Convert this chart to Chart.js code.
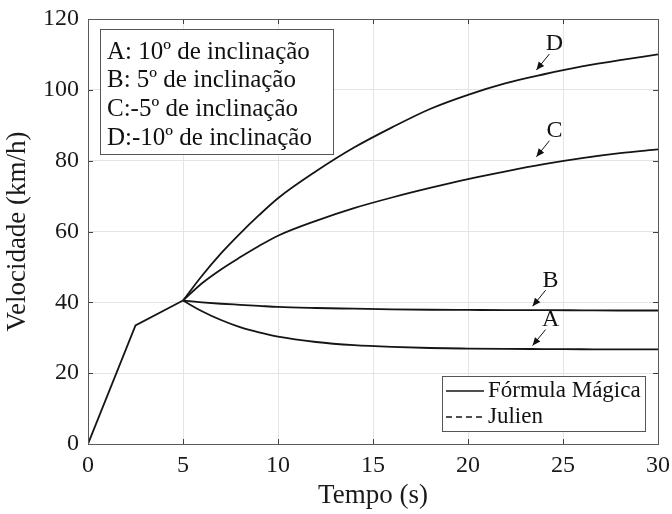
<!DOCTYPE html>
<html>
<head>
<meta charset="utf-8">
<script src="https://cdn.jsdelivr.net/npm/chart.js@4"></script>
<style>
  html, body { margin: 0; padding: 0; background: #fff; }
  #wrap { width: 672px; height: 514px; }
</style>
</head>
<body>
<div id="wrap"><canvas id="myChart" width="672" height="514"></canvas></div>
<script>
// common start (s, km/h): the same for every inclination
var tempoRampa = [0, 2.5, 5];
var velRampa = [0, 33.5, 40.5];

// time (s) after the split
var tempo = [5, 6, 7, 8, 9, 10, 12, 14, 16, 18, 20, 22, 24, 26, 28, 30];

// velocity (km/h) for each inclination
var velA = [40.5, 37.5, 35.0, 33.0, 31.5, 30.3, 28.8, 27.9, 27.4, 27.1, 26.95, 26.85, 26.8, 26.75, 26.7, 26.7];
var velB = [40.5, 40.0, 39.6, 39.3, 39.0, 38.7, 38.4, 38.2, 38.0, 37.9, 37.85, 37.8, 37.8, 37.75, 37.7, 37.7];
var velC = [40.5, 45.4, 49.3, 52.7, 55.9, 58.8, 63.0, 66.6, 69.6, 72.3, 74.8, 77.0, 79.0, 80.7, 82.1, 83.2];
var velD = [40.5, 47.5, 53.8, 59.4, 64.6, 69.4, 77.0, 83.7, 89.4, 94.6, 98.6, 101.9, 104.4, 106.6, 108.4, 110.0];

var xTicks = [0, 5, 10, 15, 20, 25, 30];
var yTicks = [0, 20, 40, 60, 80, 100, 120];

var notes = ['A: 10º de inclinação', 'B: 5º de inclinação', 'C:-5º de inclinação', 'D:-10º de inclinação'];
var legendLabels = ['Fórmula Mágica', 'Julien'];

// arrow labels: letter, where the arrow points (data coords)
var arrowLabels = ['A', 'B', 'C', 'D'];
var arrowT = [23.4, 23.4, 23.6, 23.6];
var arrowV = [27.8, 38.9, 81.1, 105.6];

var SERIF = "'Liberation Serif', 'Times New Roman', serif";

function toPoints(ts, ys) {
    return ts.map(function (t, i) { return { x: t, y: ys[i] }; });
}

function lineSet(label, ts, ys, smooth) {
    return {
        label: label,
        data: toPoints(ts, ys),
        borderColor: '#151515',
        borderWidth: 1.8,
        pointRadius: 0,
        tension: 0,
        cubicInterpolationMode: smooth ? 'monotone' : 'default',
        fill: false
    };
}

// frame, inward ticks, text box, arrows and legend
var decorations = {
    id: 'decorations',
    afterDraw: function (chart) {
        var ctx = chart.ctx;
        var a = chart.chartArea;
        var xs = chart.scales.x, ys = chart.scales.y;
        ctx.save();

        // inward tick marks
        ctx.strokeStyle = '#404040';
        ctx.lineWidth = 1;
        var tl = 5;
        xTicks.forEach(function (v) {
            var px = Math.round(xs.getPixelForValue(v)) + 0.5;
            ctx.beginPath();
            ctx.moveTo(px, a.bottom); ctx.lineTo(px, a.bottom - tl);
            ctx.moveTo(px, a.top); ctx.lineTo(px, a.top + tl);
            ctx.stroke();
        });
        yTicks.forEach(function (v) {
            var py = Math.round(ys.getPixelForValue(v)) + 0.5;
            ctx.beginPath();
            ctx.moveTo(a.left, py); ctx.lineTo(a.left + tl, py);
            ctx.moveTo(a.right, py); ctx.lineTo(a.right - tl, py);
            ctx.stroke();
        });

        // frame
        ctx.strokeStyle = '#5a5a5a';
        ctx.strokeRect(Math.round(a.left) + 0.5, Math.round(a.top) + 0.5,
            Math.round(a.right - a.left), Math.round(a.bottom - a.top));

        // text box top left
        var bx = a.left + 12, by = a.top + 10, bw = 233, bh = 125;
        ctx.fillStyle = '#fff';
        ctx.fillRect(bx, by, bw, bh);
        ctx.strokeStyle = '#555';
        ctx.strokeRect(bx + 0.5, by + 0.5, bw, bh);
        ctx.fillStyle = '#111';
        ctx.font = '25px ' + SERIF;
        ctx.textBaseline = 'middle';
        ctx.textAlign = 'left';
        notes.forEach(function (s, i) {
            ctx.fillText(s, bx + 7, by + 23 + i * 28.8);
        });

        // arrows with letters
        ctx.strokeStyle = '#111';
        ctx.fillStyle = '#111';
        ctx.lineWidth = 1;
        arrowLabels.forEach(function (lab, i) {
            var tx = xs.getPixelForValue(arrowT[i]);
            var ty = ys.getPixelForValue(arrowV[i]);
            var sx = tx + 13, sy = ty - 16;
            ctx.beginPath();
            ctx.moveTo(sx, sy); ctx.lineTo(tx, ty);
            ctx.stroke();
            var ang = Math.atan2(ty - sy, tx - sx);
            var hl = 8, hw = 3.5;
            ctx.beginPath();
            ctx.moveTo(tx, ty);
            ctx.lineTo(tx - hl * Math.cos(ang) + hw * Math.sin(ang), ty - hl * Math.sin(ang) - hw * Math.cos(ang));
            ctx.lineTo(tx - hl * Math.cos(ang) - hw * Math.sin(ang), ty - hl * Math.sin(ang) + hw * Math.cos(ang));
            ctx.closePath();
            ctx.fill();
            ctx.font = '24px ' + SERIF;
            ctx.textAlign = 'center';
            ctx.fillText(lab, tx + 18, ty - 26);
        });

        // legend bottom right
        var lw = 203, lh = 55;
        var lx = a.right - 13 - lw, ly = a.bottom - 13 - lh;
        ctx.fillStyle = '#fff';
        ctx.fillRect(lx, ly, lw, lh);
        ctx.strokeStyle = '#555';
        ctx.strokeRect(Math.round(lx) + 0.5, Math.round(ly) + 0.5, lw, lh);
        ctx.strokeStyle = '#151515';
        ctx.lineWidth = 1.6;
        ctx.beginPath();
        ctx.moveTo(lx + 4, ly + 15); ctx.lineTo(lx + 42, ly + 15);
        ctx.stroke();
        ctx.setLineDash([6, 4]);
        ctx.beginPath();
        ctx.moveTo(lx + 4, ly + 41); ctx.lineTo(lx + 42, ly + 41);
        ctx.stroke();
        ctx.setLineDash([]);
        ctx.fillStyle = '#111';
        ctx.font = '23px ' + SERIF;
        ctx.textAlign = 'left';
        ctx.fillText(legendLabels[0], lx + 46, ly + 15);
        ctx.fillText(legendLabels[1], lx + 46, ly + 41);

        ctx.restore();
    }
};

new Chart(document.querySelector('#myChart'), {
    type: 'line',
    data: {
        datasets: [
            lineSet('rampa', tempoRampa, velRampa, false),
            lineSet('A', tempo, velA, true),
            lineSet('B', tempo, velB, true),
            lineSet('C', tempo, velC, true),
            lineSet('D', tempo, velD, true)
        ]
    },
    options: {
        responsive: false,
        animation: false,
        layout: { padding: { top: 19, right: 14, left: 0, bottom: 0 } },
        plugins: {
            legend: { display: false },
            tooltip: { enabled: false }
        },
        scales: {
            x: {
                type: 'linear',
                min: 0,
                max: 30,
                afterFit: function (scale) {
                    scale.height = 70;
                    scale.paddingLeft = 0;
                    scale.paddingRight = 0;
                },
                afterBuildTicks: function (scale) {
                    scale.ticks = xTicks.map(function (v) { return { value: v }; });
                },
                grid: { color: '#e4e4e4', drawTicks: false },
                border: { display: false },
                ticks: { color: '#1a1a1a', font: { family: SERIF, size: 24 }, padding: 7, maxRotation: 0 },
                title: {
                    display: true,
                    text: 'Tempo (s)',
                    color: '#1a1a1a',
                    font: { family: SERIF, size: 27 },
                    padding: { top: 0, bottom: 2 }
                }
            },
            y: {
                min: 0,
                max: 120,
                afterFit: function (scale) {
                    scale.width = 88;
                    scale.paddingTop = 0;
                    scale.paddingBottom = 0;
                },
                afterBuildTicks: function (scale) {
                    scale.ticks = yTicks.map(function (v) { return { value: v }; });
                },
                grid: { color: '#e4e4e4', drawTicks: false },
                border: { display: false },
                ticks: { color: '#1a1a1a', font: { family: SERIF, size: 24 }, padding: 9 },
                title: {
                    display: true,
                    text: 'Velocidade (km/h)',
                    color: '#1a1a1a',
                    font: { family: SERIF, size: 27 },
                    padding: { top: 2, bottom: 0 }
                }
            }
        }
    },
    plugins: [decorations]
});
</script>
</body>
</html>
